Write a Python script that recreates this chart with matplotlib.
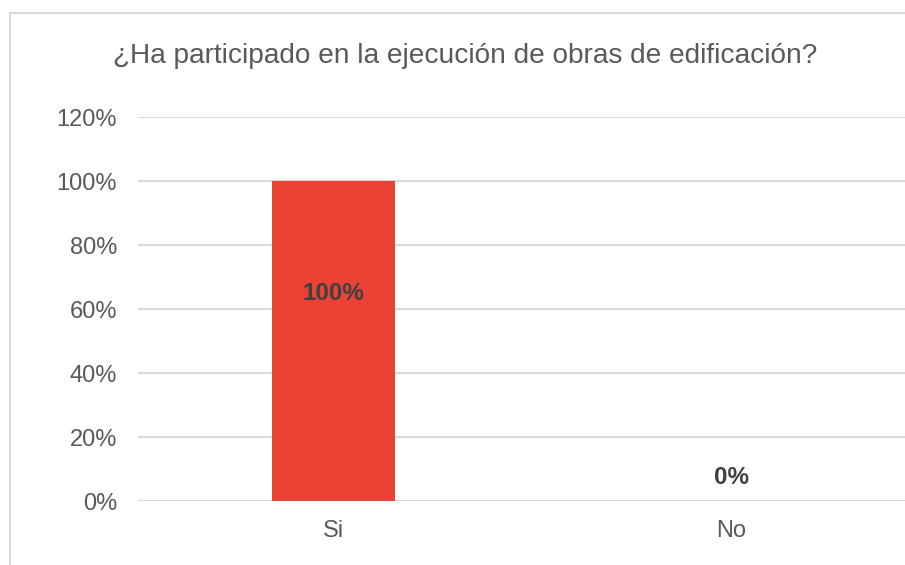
import matplotlib
matplotlib.use("Agg")
import matplotlib.pyplot as plt
from matplotlib.ticker import FuncFormatter
from matplotlib.patches import Rectangle

categories = ["Si", "No"]
values = [1.00, 0.00]
yticks = [0, 0.2, 0.4, 0.6, 0.8, 1.0, 1.2]
title = "¿Ha participado en la ejecución de obras de edificación?"

plt.rcParams["font.family"] = ["Liberation Sans", "DejaVu Sans"]

fig = plt.figure(figsize=(9.05, 5.65), dpi=100)

# light frame of the chart area (cropped on the right and bottom)
fig.patches.append(Rectangle((9.5 / 905, -0.1), 2.0, 1.1 - 13 / 565,
                             transform=fig.transFigure, fill=False,
                             edgecolor="#d9d9d9", linewidth=1.5))

ax = fig.add_axes([138 / 905, 64 / 565, 767 / 905, 384 / 565])

x = range(len(categories))
bars = ax.bar(x, values, width=0.31, color="#ea4335", zorder=3)

ax.set_ylim(0, 1.2)
ax.set_xlim(-0.491, 1.436)
ax.set_yticks(yticks)
ax.yaxis.set_major_formatter(FuncFormatter(lambda v, _: f"{v * 100:.0f}%"))
ax.set_xticks(list(x))
ax.set_xticklabels(categories)

ax.grid(axis="y", color="#d9d9d9", linewidth=1.5, zorder=0)
for s in ax.spines.values():
    s.set_visible(False)
ax.tick_params(length=0, labelsize=17, labelcolor="#595959")
ax.tick_params(axis="y", pad=15)
ax.tick_params(axis="x", pad=14)

for xi, v in zip(x, values):
    label = f"{v * 100:.0f}%"
    if v > 0:
        ax.text(xi, v * 0.65, label, ha="center", va="center",
                fontsize=17.5, fontweight="bold", color="#404040", zorder=4)
    else:
        ax.annotate(label, (xi, v), xytext=(0, 17), textcoords="offset points",
                    ha="center", va="center", fontsize=17.5,
                    fontweight="bold", color="#404040")

fig.text(465 / 905, 1 - 56 / 565, title, ha="center", va="center",
         fontsize=20.2, color="#595959")

fig.savefig("out.png", dpi=100)
